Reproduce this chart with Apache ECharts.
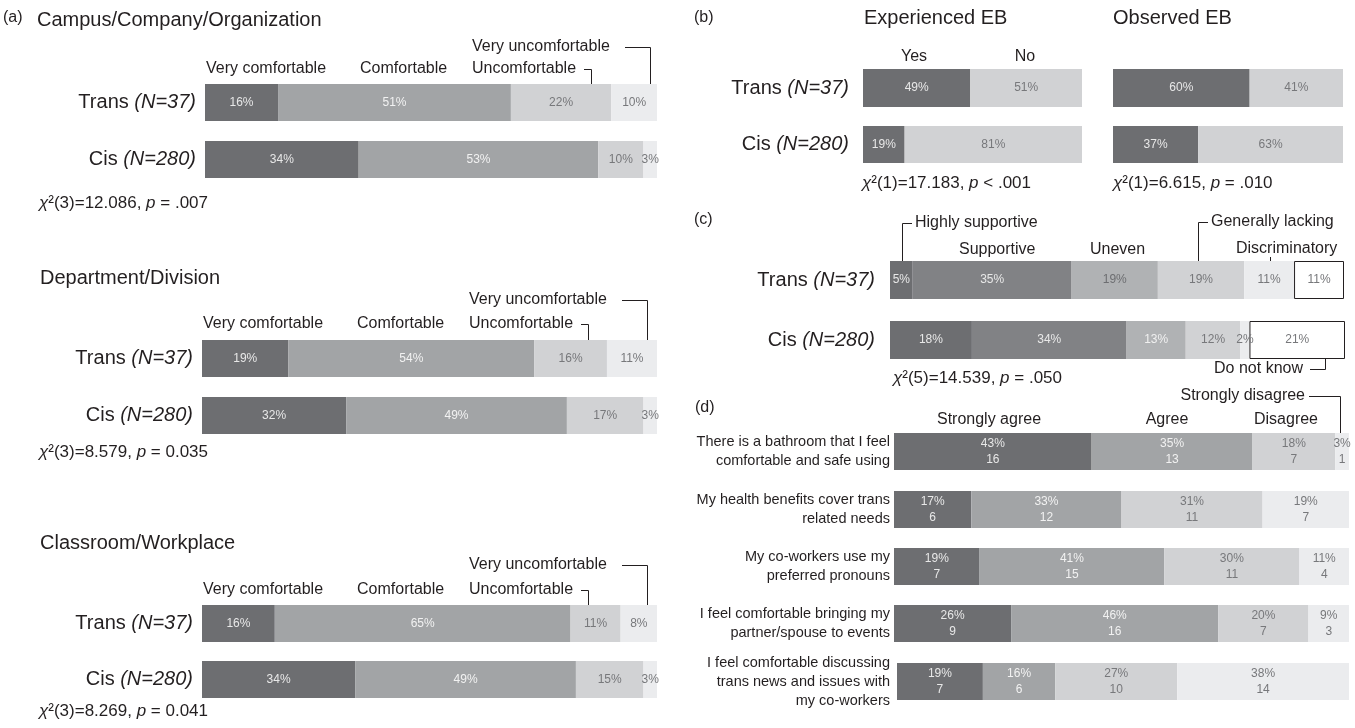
<!DOCTYPE html>
<html><head><meta charset="utf-8">
<script src="https://cdn.jsdelivr.net/npm/echarts@6/dist/echarts.min.js"></script>
<style>html,body{margin:0;padding:0;background:#fff}#c{width:1355px;height:728px}</style>
</head><body><div id="c"></div>
<script>
// ---------------- DATA ----------------
const groupNames = ['Trans', 'Cis'];
const groupN = ['N=37', 'N=280'];

const comfortLevels = ['Very comfortable', 'Comfortable', 'Uncomfortable', 'Very uncomfortable'];
const settingTitles = ['Campus/Company/Organization', 'Department/Division', 'Classroom/Workplace'];
const campusTrans = [16, 51, 22, 10];
const campusCis = [34, 53, 10, 3];
const deptTrans = [19, 54, 16, 11];
const deptCis = [32, 49, 17, 3];
const classTrans = [16, 65, 11, 8];
const classCis = [34, 49, 15, 3];
const comfortChi = [['3', '12.086', '= .007'], ['3', '8.579', '= 0.035'], ['3', '8.269', '= 0.041']];

const ebTitles = ['Experienced EB', 'Observed EB'];
const ebLevels = ['Yes', 'No'];
const experiencedTrans = [49, 51];
const experiencedCis = [19, 81];
const observedTrans = [60, 41];
const observedCis = [37, 63];
const ebChi = [['1', '17.183', '< .001'], ['1', '6.615', '= .010']];

const climateLevels = ['Highly supportive', 'Supportive', 'Uneven', 'Generally lacking', 'Discriminatory', 'Do not know'];
const climateTrans = [5, 35, 19, 19, 11, 11];
const climateCis = [18, 34, 13, 12, 2, 21];
const climateChi = ['5', '14.539', '= .050'];

const agreeLevels = ['Strongly agree', 'Agree', 'Disagree', 'Strongly disagree'];
const statements = [
  'There is a bathroom that I feel\ncomfortable and safe using',
  'My health benefits cover trans\nrelated needs',
  'My co-workers use my\npreferred pronouns',
  'I feel comfortable bringing my\npartner/spouse to events',
  'I feel comfortable discussing\ntrans news and issues with\nmy co-workers'
];
const bathroomPct = [43, 35, 18, 3];
const bathroomN = [16, 13, 7, 1];
const healthPct = [17, 33, 31, 19];
const healthN = [6, 12, 11, 7];
const pronounPct = [19, 41, 30, 11];
const pronounN = [7, 15, 11, 4];
const partnerPct = [26, 46, 20, 9];
const partnerN = [9, 16, 7, 3];
const newsPct = [19, 16, 27, 38];
const newsN = [7, 6, 10, 14];

// ---------------- STYLE / LAYOUT ----------------
const FONT = '"Liberation Sans", Arial, Helvetica, sans-serif';
const INK = '#231f20';
const LIGHT_TXT = '#e8e8e8', GRAY_TXT = '#77787b';
const PAL = {
  four: { fill: ['#6d6e71', '#a2a4a6', '#d1d2d4', '#ebecee'], text: [LIGHT_TXT, '#f2f2f2', GRAY_TXT, GRAY_TXT] },
  two: { fill: ['#6d6e71', '#d1d2d4'], text: [LIGHT_TXT, GRAY_TXT] },
  six: { fill: ['#6d6e71', '#818285', '#b0b2b4', '#d1d2d4', '#ebecee', '#ffffff'], text: [LIGHT_TXT, LIGHT_TXT, '#6d6e71', GRAY_TXT, GRAY_TXT, GRAY_TXT] },
  sixB: { fill: ['#6d6e71', '#818285', '#b0b2b4', '#d1d2d4', '#ebecee', '#ffffff'], text: [LIGHT_TXT, LIGHT_TXT, '#f0f0f0', GRAY_TXT, GRAY_TXT, GRAY_TXT] }
};

const rows = [
  { group: 0, vals: campusTrans, pal: 'four', x: 205, y: 84, w: 452, h: 37, m: 9 },
  { group: 1, vals: campusCis, pal: 'four', x: 205, y: 141, w: 452, h: 37, m: 9 },
  { group: 0, vals: deptTrans, pal: 'four', x: 202, y: 340, w: 455, h: 37, m: 9 },
  { group: 1, vals: deptCis, pal: 'four', x: 202, y: 397, w: 455, h: 37, m: 9 },
  { group: 0, vals: classTrans, pal: 'four', x: 202, y: 605, w: 455, h: 37, m: 9 },
  { group: 1, vals: classCis, pal: 'four', x: 202, y: 661, w: 455, h: 37, m: 9 },
  { group: 0, vals: experiencedTrans, pal: 'two', x: 863, y: 69, w: 219, h: 38, m: 14 },
  { group: 1, vals: experiencedCis, pal: 'two', x: 863, y: 126, w: 219, h: 37, m: 14 },
  { group: null, vals: observedTrans, pal: 'two', x: 1113, y: 69, w: 230, h: 38, m: 14 },
  { group: null, vals: observedCis, pal: 'two', x: 1113, y: 126, w: 230, h: 37, m: 14 },
  { group: 0, vals: climateTrans, pal: 'six', x: 890, y: 261, w: 454, h: 38, m: 15, box: true },
  { group: 1, vals: climateCis, pal: 'sixB', x: 890, y: 321, w: 455, h: 38, m: 15, box: true },
  { stmt: 0, vals: bathroomPct, counts: bathroomN, pal: 'four', x: 894, y: 433, w: 455, h: 37, m: 4 },
  { stmt: 1, vals: healthPct, counts: healthN, pal: 'four', x: 894, y: 491, w: 455, h: 37, m: 4 },
  { stmt: 2, vals: pronounPct, counts: pronounN, pal: 'four', x: 894, y: 548, w: 455, h: 37, m: 4 },
  { stmt: 3, vals: partnerPct, counts: partnerN, pal: 'four', x: 894, y: 605, w: 455, h: 37, m: 4 },
  { stmt: 4, vals: newsPct, counts: newsN, pal: 'four', x: 897, y: 663, w: 452, h: 37, m: 7 }
];

const grids = [], xAxes = [], yAxes = [], series = [];
rows.forEach((r, g) => {
  const total = r.vals.reduce((a, b) => a + b, 0);
  grids.push({ left: r.x, top: r.y, width: r.w, height: r.h, containLabel: false, outerBoundsMode: 'none' });
  xAxes.push({ gridIndex: g, type: 'value', min: 0, max: total, show: false });
  let cat, fmt, labelStyle;
  if (r.stmt !== undefined) {
    cat = statements[r.stmt];
    fmt = v => v;
    labelStyle = { fontSize: 14.5, lineHeight: 19, color: INK, fontFamily: FONT, align: 'right' };
  } else {
    cat = r.group === null ? '' : groupNames[r.group];
    fmt = v => v ? '{n|' + v + ' }{i|(' + groupN[r.group] + ')}' : '';
    labelStyle = { rich: { n: { fontSize: 20, color: INK, fontFamily: FONT }, i: { fontSize: 20, color: INK, fontFamily: FONT, fontStyle: 'italic' } } };
  }
  yAxes.push({
    gridIndex: g, type: 'category', data: [cat],
    axisLine: { show: false }, axisTick: { show: false }, splitLine: { show: false },
    axisLabel: Object.assign({ show: true, margin: r.m, formatter: fmt }, labelStyle)
  });
  const pal = PAL[r.pal];
  r.vals.forEach((v, k) => {
    const isBox = r.box && k === r.vals.length - 1;
    series.push({
      type: 'bar', xAxisIndex: g, yAxisIndex: g, stack: 's' + g, barWidth: '100%',
      silent: true, animation: false,
      data: [{ value: v, count: r.counts ? r.counts[k] : null }],
      itemStyle: isBox ? { color: '#ffffff', borderColor: INK, borderWidth: 1 } : { color: pal.fill[k] },
      label: {
        show: true, position: 'inside', color: pal.text[k], fontSize: 12, fontFamily: FONT,
        lineHeight: 16,
        formatter: p => r.counts ? p.value + '%\n' + p.data.count : p.value + '%'
      }
    });
  });
});

// ---------------- ANNOTATIONS ----------------
const G = [];
function txt(x, y, text, size, align, extra) {
  G.push({ type: 'text', x: x, y: y, silent: true, style: Object.assign({
    text: text, fontSize: size, fontFamily: FONT, fill: INK,
    align: align || 'left', verticalAlign: 'middle', textAlign: align || 'left', textVerticalAlign: 'middle'
  }, extra || {}) });
}
function line(pts) {
  G.push({ type: 'polyline', silent: true, shape: { points: pts }, style: { stroke: INK, lineWidth: 1, fill: null } });
}
function chi(x, y, c) {
  const rich = { i: { fontSize: 17, fontFamily: FONT, fontStyle: 'italic', fill: INK, color: INK },
                 n: { fontSize: 17, fontFamily: FONT, fill: INK, color: INK } };
  txt(x, y, '{i|χ}{n|²(' + c[0] + ')=' + c[1] + ', }{i|p}{n| ' + c[2] + '}', 17, 'left', { rich: rich });
}

// (a)
txt(3, 18, '(a)', 16);
const aSub = [
  { L: 205, T: 84, title: 20, vu: 47, lab: 69, chiY: 203, tx: 37 },
  { L: 202, T: 340, title: 278, vu: 300, lab: 324, chiY: 452, tx: 40 },
  { L: 202, T: 605, title: 543, vu: 565, lab: 590, chiY: 711, tx: 40 }
];
aSub.forEach((s, i) => {
  txt(s.tx, s.title, settingTitles[i], 20);
  txt(s.L + 1, s.lab, comfortLevels[0], 16);
  txt(s.L + 155, s.lab, comfortLevels[1], 16);
  txt(s.L + 267, s.lab, comfortLevels[2], 16);
  line([[s.L + 379, s.lab + 0.5], [s.L + 386.5, s.lab + 0.5], [s.L + 386.5, s.T]]);
  txt(s.L + 267, s.vu, comfortLevels[3], 16);
  line([[s.L + 420, s.vu + 0.5], [s.L + 445.5, s.vu + 0.5], [s.L + 445.5, s.T]]);
  chi(39, s.chiY, comfortChi[i]);
});

// (b)
txt(694, 18, '(b)', 16);
txt(864, 18, ebTitles[0], 20);
txt(1113, 18, ebTitles[1], 20);
txt(914, 57, ebLevels[0], 16, 'center');
txt(1025, 57, ebLevels[1], 16, 'center');
chi(862, 183, ebChi[0]);
chi(1113, 183, ebChi[1]);

// (c)
txt(694, 220, '(c)', 16);
line([[902.5, 261], [902.5, 223.5], [912, 223.5]]);
txt(915, 223, climateLevels[0], 16);
txt(959, 250, climateLevels[1], 16);
txt(1090, 250, climateLevels[2], 16);
line([[1198.5, 261], [1198.5, 222.5], [1208, 222.5]]);
txt(1211, 222, climateLevels[3], 16);
txt(1236, 249, climateLevels[4], 16);
line([[1270.5, 257], [1270.5, 262]]);
txt(1303, 369, climateLevels[5], 16, 'right');
line([[1310, 369.5], [1325.5, 369.5], [1325.5, 359]]);
chi(893, 378, climateChi);

// (d)
txt(695, 408, '(d)', 16);
txt(989, 420, agreeLevels[0], 16, 'center');
txt(1167, 420, agreeLevels[1], 16, 'center');
txt(1286, 420, agreeLevels[2], 16, 'center');
txt(1305, 396, agreeLevels[3], 16, 'right');
line([[1309, 396.5], [1340.5, 396.5], [1340.5, 433]]);

const chart = echarts.init(document.getElementById('c'), null, { renderer: 'canvas' });
chart.setOption({
  backgroundColor: '#ffffff',
  animation: false,
  textStyle: { fontFamily: FONT },
  grid: grids, xAxis: xAxes, yAxis: yAxes, series: series,
  graphic: { elements: G }
});
</script></body></html>
